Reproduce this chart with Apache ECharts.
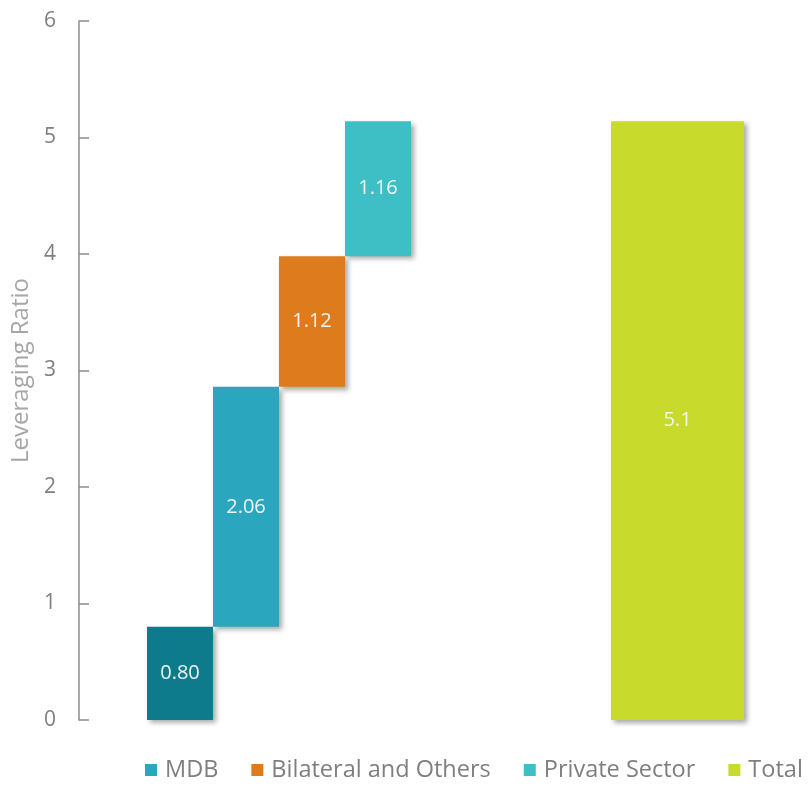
<!DOCTYPE html>
<html>
<head>
<meta charset="utf-8">
<script src="https://cdn.jsdelivr.net/npm/echarts@6/dist/echarts.min.js"></script>
<style>html,body{margin:0;padding:0;background:#fff;}#c{width:810px;height:787px;}</style>
</head>
<body>
<div id="c"></div>
<script>
// ---- data ----
var slots = ['', 'Base', 'MDB', 'Bilateral and Others', 'Private Sector', '', '', '', '', '', ''];
var baseValues   = ['-', 0,    0.80, 2.86, 3.98, '-', '-', '-', '-', '-', '-'];
var coreValues   = ['-', 0.80, '-',  '-',  '-',  '-', '-', '-', '-', '-', '-'];
var mdbValues    = ['-', '-',  2.06, '-',  '-',  '-', '-', '-', '-', '-', '-'];
var bilatValues  = ['-', '-',  '-',  1.12, '-',  '-', '-', '-', '-', '-', '-'];
var privValues   = ['-', '-',  '-',  '-',  1.16, '-', '-', '-', '-', '-', '-'];
var totalCategories = ['Total'];
var totalValues = [5.14];
var yTicks = [0, 1, 2, 3, 4, 5, 6];

var shadow = {shadowColor: 'rgba(0,0,0,0.35)', shadowBlur: 5, shadowOffsetX: 3, shadowOffsetY: 3};
function lab(dec) {
  return {show: true, position: 'inside', color: '#eef6f4', fontSize: 20,
    fontFamily: 'Open Sans', formatter: function (p) { return Number(p.value).toFixed(dec); }};
}
function st(color) { return Object.assign({color: color}, shadow); }

var chart = echarts.init(document.getElementById('c'));
chart.setOption({
  animation: false,
  backgroundColor: '#fff',
  legend: {
    data: ['MDB', 'Bilateral and Others', 'Private Sector', 'Total'],
    top: 758, left: 145, width: 700, padding: 0,
    icon: 'rect', itemWidth: 12, itemHeight: 12, itemGap: 33,
    textStyle: {fontFamily: 'Open Sans', fontSize: 23.5, color: '#7f7f7f', padding: [0, 0, 0, 3]}
  },
  grid: [
    {left: 81, right: 3, top: 21, bottom: 67},
    {left: 611, width: 133, top: 21, bottom: 67}
  ],
  xAxis: [
    {type: 'category', gridIndex: 0, data: slots, show: false},
    {type: 'category', gridIndex: 1, data: totalCategories, show: false}
  ],
  yAxis: [
    {type: 'value', gridIndex: 0, min: yTicks[0], max: yTicks[yTicks.length - 1], interval: 1, offset: 2,
     name: 'Leveraging Ratio', nameLocation: 'middle', nameGap: 46,
     nameTextStyle: {fontFamily: 'Open Sans', fontSize: 24, color: '#a6a6a6'},
     axisLine: {show: true, lineStyle: {color: '#8c8c8c', width: 1.5}},
     axisTick: {show: true, inside: true, length: 10, lineStyle: {color: '#8c8c8c', width: 1.5}},
     axisLabel: {fontFamily: 'Open Sans', fontSize: 21, color: '#7f7f7f', margin: 23},
     splitLine: {show: false}},
    {type: 'value', gridIndex: 1, min: yTicks[0], max: yTicks[yTicks.length - 1], interval: 1, show: false,
     splitLine: {show: false}}
  ],
  series: [
    {name: 'base', type: 'bar', stack: 'w', xAxisIndex: 0, yAxisIndex: 0, data: baseValues,
     barWidth: '100%', itemStyle: {color: 'transparent'}, silent: true},
    {name: 'Core', type: 'bar', stack: 'w', xAxisIndex: 0, yAxisIndex: 0, data: coreValues,
     barWidth: '100%', itemStyle: st('#0d7b8b'), label: lab(2)},
    {name: 'MDB', type: 'bar', stack: 'w', xAxisIndex: 0, yAxisIndex: 0, data: mdbValues,
     barWidth: '100%', itemStyle: st('#2ba6bf'), label: lab(2)},
    {name: 'Bilateral and Others', type: 'bar', stack: 'w', xAxisIndex: 0, yAxisIndex: 0, data: bilatValues,
     barWidth: '100%', itemStyle: st('#de7c1d'), label: lab(2)},
    {name: 'Private Sector', type: 'bar', stack: 'w', xAxisIndex: 0, yAxisIndex: 0, data: privValues,
     barWidth: '100%', itemStyle: st('#3ebfc6'), label: lab(2)},
    {name: 'Total', type: 'bar', xAxisIndex: 1, yAxisIndex: 1, data: totalValues,
     barWidth: '100%', itemStyle: st('#c8da2c'), label: lab(1)}
  ]
});
</script>
</body>
</html>
